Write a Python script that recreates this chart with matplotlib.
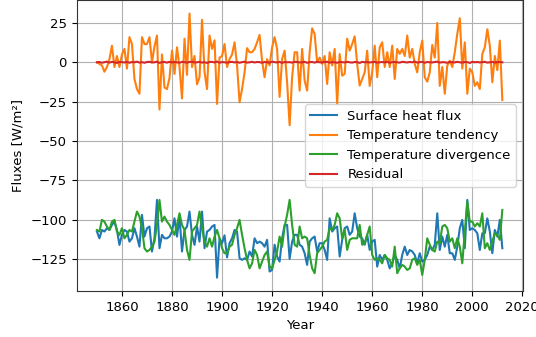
import matplotlib
matplotlib.use("Agg")
import matplotlib.pyplot as plt
import numpy as np

years = list(range(1850, 2013))

surface_heat_flux = [
    -107.6, -111.9, -106.6, -107.6, -105.5, -106.6, -103.4, -101.3, -106.6, -116.1,
    -109.7, -106.6, -107.6, -114.0, -111.9, -105.5, -110.8, -117.2, -97.0, -110.8,
    -105.5, -104.4, -120.3, -111.9, -87.5, -118.2, -109.7, -111.9, -111.9, -110.8,
    -107.6, -99.2, -110.8, -98.1, -120.3, -106.6, -104.4, -94.9, -109.7, -116.1,
    -104.4, -114.0, -94.9, -118.2, -107.6, -106.6, -104.4, -103.4, -136.9, -112.0,
    -115.0, -110.0, -124.0,
    -115.0, -111.9, -106.6, -107.6, -124.6, -125.6, -124.6, -125.6, -120.3, -123.5,
    -111.9, -115.0, -114.0, -115.0, -117.2, -112.9, -133.0, -132.0, -116.0, -123.5,
    -126.7, -111.9, -103.4, -103.4, -125.0, -114.0, -109.7, -109.7, -116.0, -117.2,
    -121.4, -128.8, -114.0, -111.9, -110.8, -120.3, -115.0, -115.0, -119.3, -125.6,
    -99.2, -107.6, -105.5, -104.4, -123.5, -112.9, -105.5, -104.4, -109.7, -107.6,
    -96.0, -105.5, -110.8, -111.9,
    -116.0, -109.7, -119.3, -114.0, -112.9, -129.9, -122.5, -125.6, -122.5, -125.6,
    -131.0, -127.8, -122.5, -125.6, -131.0, -122.5, -117.2, -122.5, -119.3, -120.3,
    -122.5, -127.8, -121.4, -126.7, -125.6, -122.5, -117.2, -119.3, -116.0, -96.0,
    -119.3, -110.8, -117.2, -109.7, -121.4, -121.4, -125.6, -117.2, -105.5, -100.2,
    -118.2, -87.5, -106.6, -105.5, -106.6, -108.7, -119.3, -108.7, -108.7, -99.2,
    -107.6, -121.4, -106.6, -110.8, -100.2, -118.2,
]

temperature_tendency = [
    0.0, -1.0, -2.0, -6.0, -3.0, 2.0, 10.5, -3.0, 4.0, -3.0,
    5.0, 8.5, -4.0, 16.0, 11.6, -10.6, -17.0, -20.0, 16.0, 11.6,
    11.6, 16.0, 0.0, 10.0, 17.0, -30.0, 5.0, -16.0, -17.0, -10.0,
    7.4, -7.4, 9.5, -3.0, -23.0, 15.0, -8.0, 31.0, -3.0, 4.0,
    -14.0, -9.5, 27.0, -6.0, -17.0, 17.0, 8.5, 14.0, -26.5, 3.0,
    4.0, 11.6, -3.0,
    2.0, 5.0, 12.7, -2.0, -25.4, -17.0, -6.4, 9.0, 6.4, 6.4,
    8.5, 12.7, 17.4, 1.0, -9.5, 2.0, -2.0, 9.5, 16.0, 8.5,
    -22.0, 2.0, 7.4, -12.7, -40.0, -9.5, 6.4, 6.4, -18.0, 8.5,
    -11.6, -18.0, 6.4, 21.6, 18.0, 0.0, 3.0, -1.0, 4.0, -13.8,
    6.4, -2.0, 8.5, -26.5, 5.3, -8.5, -7.4, 15.0, 7.4, 11.6,
    16.5, -1.0, -14.8, -10.6, -6.4, 7.4,
    -15.0, -6.4, 10.6, -9.5, 9.5, 12.7, -3.0, 6.4, -3.0, 10.6,
    -10.6, 8.5, 5.3, 8.5, 4.0, 17.0, 3.0, 8.5, -1.0, -6.4,
    6.4, 13.8, -9.5, -12.3, -6.4, 11.0, 3.0, 25.0, -15.0, -3.0,
    -20.0, -2.0, 1.0, -3.0, 6.4, 18.0, 28.0, -4.0, 12.7, -20.0,
    -4.0, -6.4, -15.0, -12.7, -17.0, 5.3, 9.5, 21.0, 10.6, -12.7,
    4.0, -5.0, 13.8, -24.0,
]

temperature_divergence = [
    -106.6, -107.6, -100.2, -101.3, -104.4, -106.6, -101.3, -100.2, -107.6, -109.7,
    -105.5, -111.9, -109.7, -106.6, -107.6, -101.3, -94.9, -98.1, -105.5, -118.2,
    -120.3, -119.3, -117.2, -114.0, -103.4, -87.5, -101.3, -98.1, -101.3, -103.4,
    -106.6, -109.7, -103.4, -96.0, -103.4, -106.6, -119.3, -125.6, -107.6, -105.5,
    -103.4, -94.9, -105.5, -114.0, -117.2, -111.9, -117.2, -110.8, -106.6, -111.9,
    -118.2, -121.4, -121.4,
    -117.2, -116.0, -109.7, -105.5, -100.2, -109.7, -118.2, -125.6, -131.0, -127.8,
    -119.3, -122.5, -131.0, -126.7, -122.5, -120.3, -129.9, -131.0, -125.6, -120.3,
    -110.8, -117.2, -104.4, -97.0, -87.5, -103.4, -116.0, -117.2, -104.4, -111.9,
    -110.8, -111.9, -122.5, -131.0, -134.1, -121.4, -119.3, -117.2, -114.0, -112.9,
    -105.5, -106.6, -103.4, -96.0, -99.2, -111.9, -106.6, -119.3, -112.9, -111.9,
    -111.9, -111.9, -103.4, -116.0,
    -115.0, -109.7, -104.4, -122.5, -125.6, -124.6, -125.6, -127.8, -122.5, -124.6,
    -125.6, -129.9, -117.2, -134.1, -131.0, -128.8, -129.9, -132.0, -131.0, -125.6,
    -124.6, -128.8, -125.6, -135.2, -125.6, -111.9, -116.0, -119.3, -120.3, -114.0,
    -115.0, -104.4, -103.4, -105.5, -114.0, -111.9, -118.2, -111.9, -117.2, -127.8,
    -107.6, -88.6, -101.3, -101.3, -104.4, -102.3, -104.4, -96.0, -118.2, -115.0,
    -119.3, -114.0, -108.7, -109.7, -112.9, -93.9,
]

residual = [
    0.0, 0.2, -0.3, 0.1, 0.4, -0.2, 0.3, 0.0, -0.4, 0.2,
    0.1, -0.1, 0.3, -0.3, 0.2, 0.0, 0.4, -0.2, 0.1, -0.3,
    0.2, 0.3, -0.1, 0.0, 0.4, -0.4, 0.1, 0.2, -0.2, 0.3,
    -0.1, 0.2, 0.0, -0.3, 0.3, 0.1, -0.2, 0.2, 0.4, -0.1,
    0.0, 0.3, -0.2, 0.1, -0.4, 0.2, 0.3, -0.1, 0.5, -0.3,
    0.2, 0.0, -0.2, 0.1, 0.3, -0.1, 0.2, -0.3, 0.1, 0.4,
    -0.2, 0.0, 0.3, -0.1, 0.2, 0.1, -0.3, 0.2, 0.0, -0.2,
    0.4, 0.1, -0.1, 0.3, -0.4, 0.2, 0.0, 0.1, -0.2, 0.3,
    0.2, -0.1, 0.0, 0.3, -0.3, 0.1, 0.2, -0.2, 0.4, 0.0,
    -0.1, 0.2, 0.3, -0.2, 0.1, 0.0, -0.3, 0.2, 0.1, -0.1,
    0.3, 0.0, -0.2, 0.2, 0.1, -0.4, 0.3, 0.0, 0.2, -0.1,
    0.1, 0.3, -0.2, 0.0, 0.2, -0.1, 0.4, -0.3, 0.1, 0.2,
    0.0, -0.2, 0.3, 0.1, -0.1, 0.2, 0.0, 0.5, -0.2, 0.1,
    0.3, -0.3, 0.2, 0.0, -0.1, 0.2, 0.4, -0.2, 0.1, 0.0,
    -0.3, 0.2, 0.1, -0.1, 0.3, 0.0, -0.2, 0.2, 0.1, -0.4,
    0.3, 0.0, 0.2, -0.1, 0.1, 0.3, -0.2, 0.0, 0.2, -0.1,
    0.1, 0.2, 0.0,
]

series_labels = ["Surface heat flux", "Temperature tendency",
                 "Temperature divergence", "Residual"]

plt.rcParams['font.family'] = ['DejaVu Sans']
fig = plt.figure(figsize=(5.36, 3.37), dpi=100)
ax = fig.add_axes([0.143, 0.137, 0.832, 0.862])

ax.plot(years, surface_heat_flux, color="#1f77b4", lw=1.5, label=series_labels[0])
ax.plot(years, temperature_tendency, color="#ff7f0e", lw=1.5, label=series_labels[1])
ax.plot(years, temperature_divergence, color="#2ca02c", lw=1.5, label=series_labels[2])
ax.plot(years, residual, color="#d62728", lw=1.5, label=series_labels[3])

ax.grid(True, color="#b0b0b0", lw=0.8)
ax.set_xticks([1860, 1880, 1900, 1920, 1940, 1960, 1980, 2000, 2020])
ax.set_yticks([25, 0, -25, -50, -75, -100, -125])
ax.tick_params(labelsize=9.5)
ax.set_xlabel("Year", fontsize=9.5)
ax.set_ylabel("Fluxes [W/m²]", fontsize=9.5)
for s in ax.spines.values():
    s.set_color("#333333")
ax.legend(loc="center right", fontsize=9.5)

fig.savefig("out.png", dpi=100)
